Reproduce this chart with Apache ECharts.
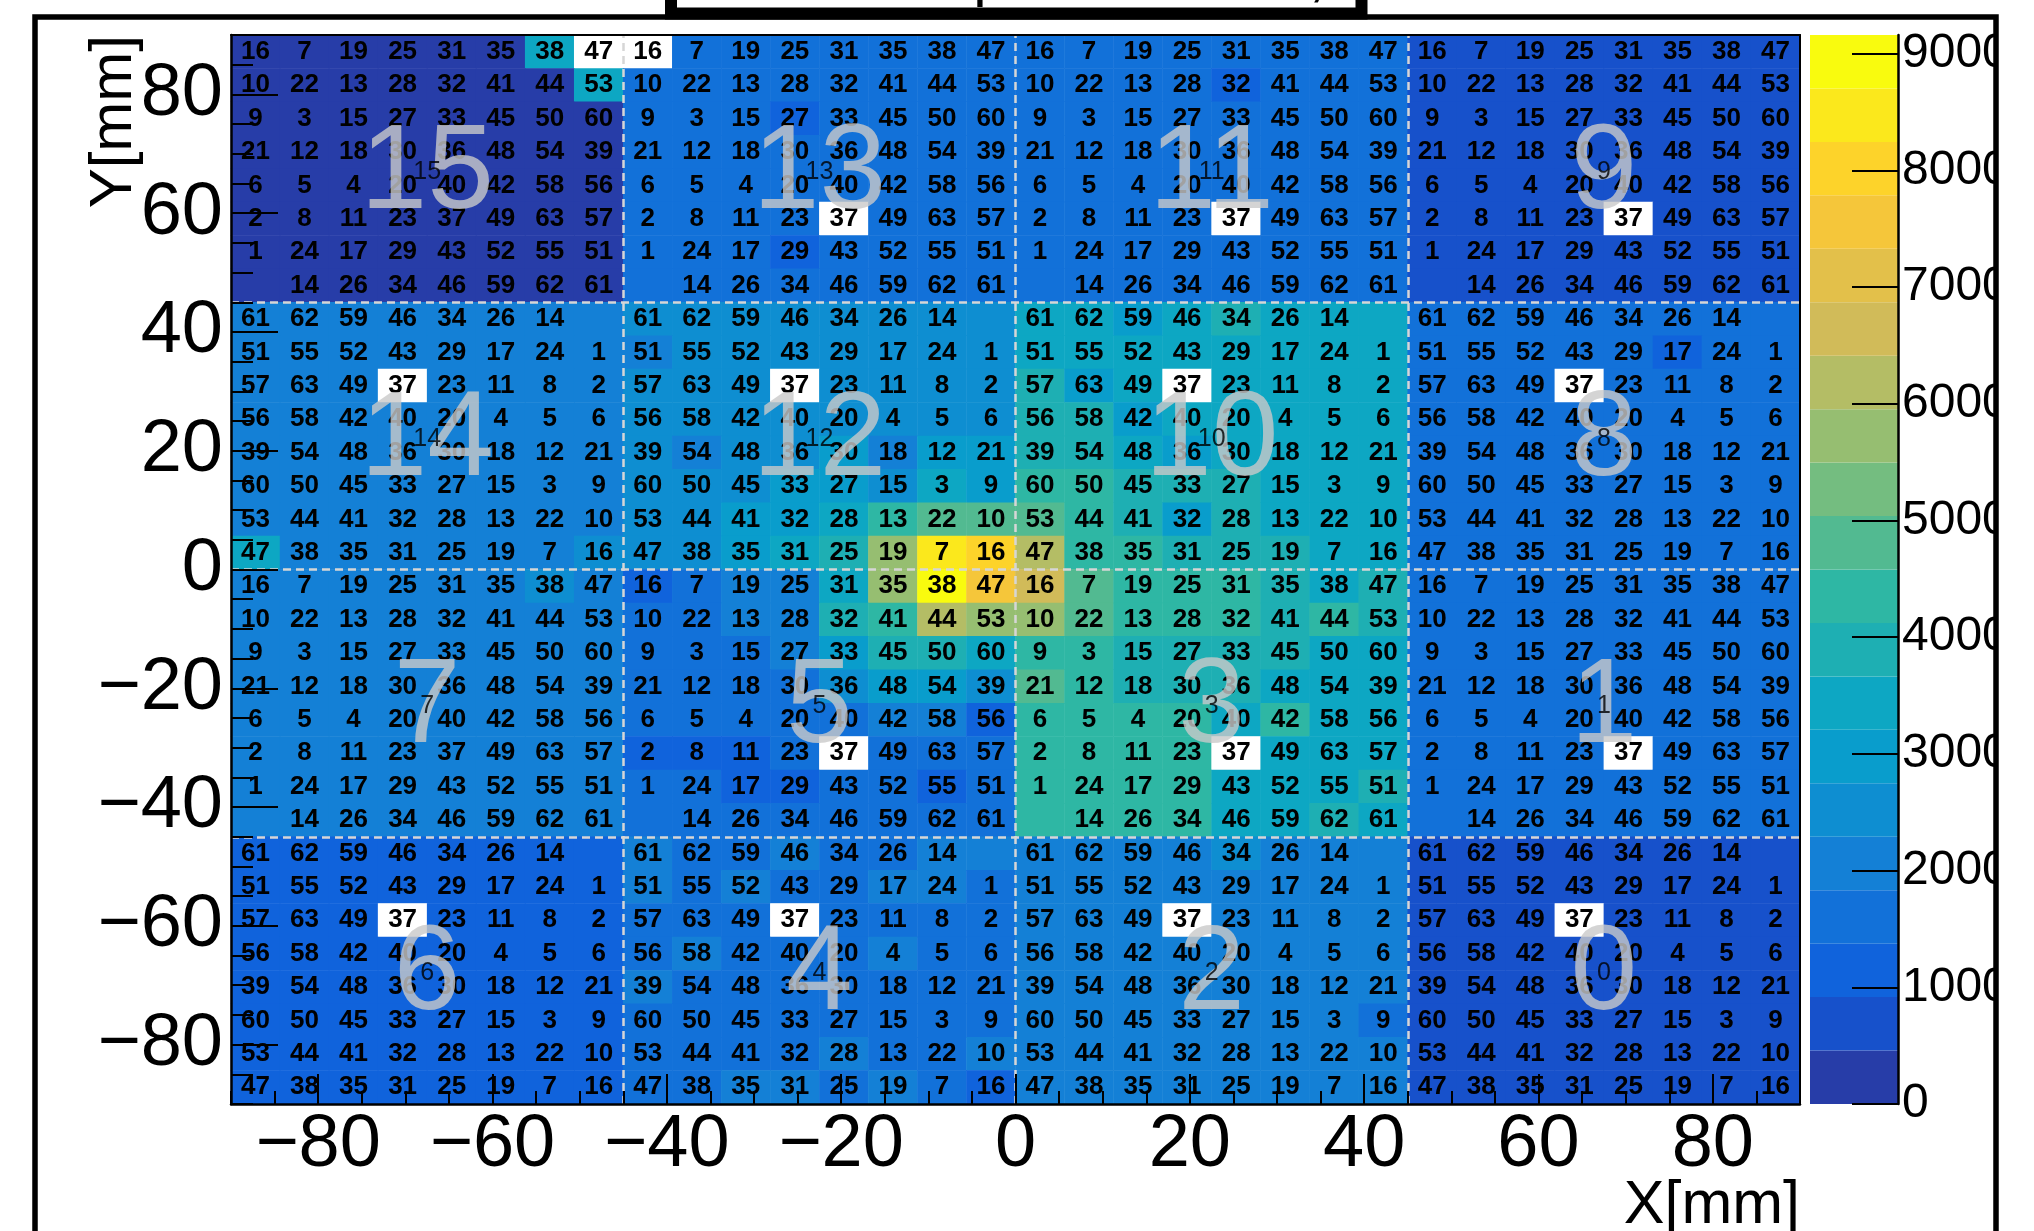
<!DOCTYPE html>
<html>
<head>
<meta charset="utf-8">
<script src="https://cdn.jsdelivr.net/npm/echarts@6/dist/echarts.min.js"></script>
<style>
html,body{margin:0;padding:0;background:#fff;}
#c{width:2034px;height:1231px;}
</style>
</head>
<body>
<div id="c"></div>
<script>
// ---------- data ----------
// channel numbers in one 8x8 module (upper-type and lower-type modules)
const CH_A = [
  [16, 7,19,25,31,35,38,47],
  [10,22,13,28,32,41,44,53],
  [ 9, 3,15,27,33,45,50,60],
  [21,12,18,30,36,48,54,39],
  [ 6, 5, 4,20,40,42,58,56],
  [ 2, 8,11,23,37,49,63,57],
  [ 1,24,17,29,43,52,55,51],
  [ 0,14,26,34,46,59,62,61]
];
const CH_B = [
  [61,62,59,46,34,26,14, 0],
  [51,55,52,43,29,17,24, 1],
  [57,63,49,37,23,11, 8, 2],
  [56,58,42,40,20, 4, 5, 6],
  [39,54,48,36,30,18,12,21],
  [60,50,45,33,27,15, 3, 9],
  [53,44,41,32,28,13,22,10],
  [47,38,35,31,25,19, 7,16]
];
// module ids (top row of modules first) and module centres [mm]
const MODULE_IDS = [[15,13,11,9],[14,12,10,8],[7,5,3,1],[6,4,2,0]];
const MODULE_X = [-67.5,-22.5,22.5,67.5];
const MODULE_Y = [67.5,22.5,-22.5,-67.5];
const MODULE_EDGES = [-45,0,45];

// counts per cell, rows from top (y=+90) to bottom, 32 columns from x=-90
const COUNTS_TOP = [ // modules 15 13 11 9
 [300,320,290,310,280,300,3420,0, 0,1600,1620,1590,1610,1580,1630,1600, 1610,1590,1620,1600,1580,1610,1600,1570, 700,690,710,680,700,720,690,700],
 [310,290,300,320,300,290,310,3450, 1590,1610,1600,1620,1580,1600,1610,1590, 1600,1620,1590,1610,1150,1600,1580,1610, 690,710,700,680,720,700,690,710],
 [290,300,310,290,300,320,300,310, 1600,1580,1610,1160,1600,1620,1590,1600, 1610,1590,1600,1620,1600,1580,1610,1600, 700,680,710,700,690,700,720,690],
 [300,310,290,300,320,300,290,300, 1610,1600,1590,1600,1620,1610,1580,1600, 1590,1600,1610,1600,1590,1620,1600,1610, 710,700,690,700,710,680,700,690],
 [320,300,300,290,310,300,310,290, 1590,1620,1600,1610,1590,1600,1610,1620, 1600,1610,1590,1580,1610,1600,1620,1590, 690,700,710,690,700,710,690,700],
 [300,290,310,300,300,320,300,310, 1600,1590,1610,1600,0,1610,1590,1600, 1620,1600,1590,1610,0,1600,1610,1600, 700,710,690,700,0,690,710,700],
 [310,300,290,310,300,290,310,300, 1610,1600,1590,1150,1600,1620,1600,1610, 1600,1590,1610,1600,1620,1600,1590,1610, 690,700,700,710,690,700,690,710],
 [290,310,300,300,290,310,300,320, 1600,1610,1600,1590,1610,1600,1620,1600, 1590,1610,1600,1620,1600,1610,1590,1600, 700,690,710,700,700,690,700,680]
];
const COUNTS_UPPER_MID = [ // modules 14 12 10 8
 [2060,2040,2070,2050,2080,2050,2060,2040, 2500,2520,2510,2490,2530,2500,2510,2520, 3420,3440,2980,3430,3900,3420,3410,3440, 1610,1600,1590,1620,1600,1610,1590,1600],
 [2050,2070,2060,2040,2050,2080,2060,2050, 2070,2510,2520,2500,2490,2510,2530,2500, 3430,3410,3440,3420,3450,3420,3430,3410, 1600,1620,1590,1610,1600,1150,1610,1600],
 [2060,2050,2070,0,2060,2040,2050,2070, 2510,2500,2520,0,2510,2500,2490,2510, 3880,2970,3420,0,3430,3440,3410,3420, 1590,1610,1600,0,1620,1600,1590,1610],
 [2040,2060,2050,2070,2060,2050,2040,2060, 2500,2520,2510,2500,2530,2510,2500,2520, 3890,3870,2990,3430,3420,3410,3440,3420, 1610,1600,1620,1590,1600,1610,1600,1590],
 [2070,2050,2060,2040,2050,2060,2070,2050, 2510,2060,2500,2520,3000,2070,2990,2980, 3900,3880,3440,2980,3420,3430,3410,3440, 1600,1590,1610,1600,1620,1600,1610,1590],
 [2050,2060,2040,2050,2070,2060,2050,2060, 2520,2500,2510,2990,3000,2510,3430,2980, 4340,4320,3890,3910,3880,3420,3440,3430, 1610,1600,1590,1610,1600,1620,1600,1610],
 [2060,2050,2070,2060,2040,2050,2060,2070, 2500,2510,2980,3000,3440,4350,4810,4790, 4800,4330,3900,2990,3880,3420,3410,3430, 1600,1610,1600,1590,1610,1600,1620,1600],
 [3430,2050,2060,2070,2050,2060,2040,2520, 2510,2500,2990,3430,3890,5720,8480,8020, 6180,4340,4320,3900,3880,3870,3420,3440, 1590,1600,1610,1600,1620,1610,1600,1590]
];
const COUNTS_LOWER_MID = [ // modules 7 5 3 1
 [2050,2060,2070,2050,2060,2040,2520,2060, 1150,1610,2060,2070,3420,5720,9160,7560, 6640,4800,4350,4330,4340,3900,3430,3890, 1600,1610,1590,1600,1620,1600,1610,1600],
 [2060,2050,2040,2060,2070,2050,2060,2050, 1600,1590,2050,2070,3890,4340,6180,5730, 5720,4790,4340,4330,4210,3900,4350,3890, 1610,1600,1620,1590,1600,1610,1600,1620],
 [2050,2070,2060,2040,2050,2060,2070,2050, 1600,1620,1590,2060,2980,3900,3880,3430, 4330,4340,3890,3900,3880,3910,3430,3420, 1600,1590,1610,1600,1620,1600,1590,1610],
 [2060,2050,2040,2060,2050,2070,2060,2040, 1590,1610,1600,1620,2520,2980,2990,2510, 4790,4340,3890,3900,3880,3420,3440,3410, 1610,1600,1620,1600,1590,1610,1600,1620],
 [2070,2050,2060,2050,2040,2060,2050,2060, 1600,1610,1590,1620,1600,2060,2050,1150, 4340,4330,4350,4320,3430,4200,3420,3440, 1600,1620,1590,1610,1600,1600,1610,1590],
 [2050,2060,2050,2070,2060,2050,2040,2060, 1150,1160,1140,1600,0,1610,1620,1600, 4330,4350,4340,4320,0,3420,3440,3430, 1610,1600,1590,1600,0,1620,1600,1610],
 [2060,2050,2070,2040,2050,2060,2050,2070, 1610,1620,1150,1140,1600,1590,1160,1620, 4340,4320,4350,4330,3430,3420,3410,3900, 1600,1610,1600,1620,1590,1600,1610,1600],
 [2050,2060,2040,2060,2070,2050,2060,2050, 1600,1610,1620,1590,1600,1610,1600,1620, 4330,4340,4320,4350,3420,3430,3900,3440, 1620,1600,1610,1590,1600,1620,1600,1610]
];
const COUNTS_BOTTOM = [ // modules 6 4 2 0
 [1150,1140,1160,1150,1130,1150,1160,1140, 2050,1610,1600,2060,1590,1600,2050,2070, 2050,2060,2070,2050,2520,2060,2050,2040, 700,690,710,700,680,700,710,690],
 [1140,1150,1160,1130,1150,1140,1160,1150, 2060,1600,2050,1610,1590,2060,2050,1600, 2060,2050,2040,2060,2050,2070,2060,2050, 690,700,710,690,700,720,700,710],
 [1150,1160,1140,0,1150,1160,1140,1150, 1600,1610,1590,0,1620,1600,1610,1590, 2050,2060,2050,0,2070,2050,2060,2040, 700,710,690,0,700,690,700,710],
 [1160,1150,1140,1150,1160,1130,1150,1140, 1610,2060,1600,1590,1610,2050,1600,1620, 2060,2040,2050,2060,2050,2060,2070,2050, 710,700,690,700,710,700,690,700],
 [1140,1150,1160,1140,1150,1160,1150,1130, 2050,1600,1610,1620,1590,1600,1610,1600, 2050,2070,2060,2050,2040,2060,2050,2060, 700,690,700,710,700,690,710,700],
 [1150,1140,1150,1160,1140,1150,1160,1150, 1600,1620,1590,1610,1600,1610,1590,1600, 2060,2050,2060,2070,2050,2040,2060,1600, 690,700,710,700,690,700,700,710],
 [1160,1150,1140,1150,1160,1150,1140,1160, 1610,1590,1600,1620,2060,1600,1610,2050, 2050,2060,2050,2040,2060,2050,2070,2060, 700,710,690,700,710,690,700,700],
 [1140,1160,1150,1140,1150,1160,1150,1140, 1600,1610,2050,2060,1590,2060,1600,1150, 2060,2050,2070,2050,2060,2040,2050,2060, 710,690,700,710,690,700,710,690]
];

// axes
const X_TICKS = [-80,-60,-40,-20,0,20,40,60,80];
const Y_TICKS = [-80,-60,-40,-20,0,20,40,60,80];
const MINOR_TICKS = [-90,-85,-80,-75,-70,-65,-60,-55,-50,-45,-40,-35,-30,-25,-20,-15,-10,-5,0,5,10,15,20,25,30,35,40,45,50,55,60,65,70,75,80,85,90];
const Z_TICKS = [0,1000,2000,3000,4000,5000,6000,7000,8000,9000];
const ZMAX = 9160;
const NCONT = 20;

// ---------- build ----------
const ROWS = COUNTS_TOP.concat(COUNTS_UPPER_MID, COUNTS_LOWER_MID, COUNTS_BOTTOM);
const NC = 32;
const cats = Array.from({length: NC}, (_, i) => i);
const heat = [];
for (let r = 0; r < NC; r++) for (let c = 0; c < NC; c++) heat.push([c, r, ROWS[r][c]]);
function channel(c, r) {
  const pat = (Math.floor(r / 8) % 2 === 0) ? CH_A : CH_B;
  return pat[r % 8][c % 8];
}

// ROOT kBird palette
const ST=[0,0.125,0.25,0.375,0.5,0.625,0.75,0.875,1];
const PR=[0.2082,0.0592,0.0780,0.0232,0.1802,0.5301,0.8186,0.9956,0.9764];
const PG=[0.1664,0.3599,0.5041,0.6419,0.7178,0.7492,0.7328,0.7862,0.9832];
const PB=[0.5293,0.8684,0.8385,0.7914,0.6425,0.4662,0.3499,0.1968,0.0539];
function bird(t){
  let i=0; while(i<ST.length-2 && t>ST[i+1]) i++;
  const f=(t-ST[i])/(ST[i+1]-ST[i]);
  const ch=a=>Math.round(255*(a[i]+f*(a[i+1]-a[i])));
  return 'rgb('+ch(PR)+','+ch(PG)+','+ch(PB)+')';
}
const STEP = ZMAX / NCONT;
const PAL = [];
for (let k = 0; k < NCONT; k++) PAL.push(bird(Math.floor((k + 0.99) * 255 / NCONT) / 254));
const pieces = [{min: 0, max: 0, color: '#ffffff'}];
for (let k = 0; k < NCONT; k++) {
  const p = {color: PAL[k]};
  if (k === 0) p.gt = 0; else p.gte = k * STEP;
  if (k === NCONT - 1) p.lte = ZMAX * 1.01; else p.lt = (k + 1) * STEP;
  pieces.push(p);
}
const bands = Array.from({length: NCONT}, (_, k) => [k]);

const modPts = [];
for (let i = 0; i < 4; i++) for (let j = 0; j < 4; j++) modPts.push([MODULE_X[j], MODULE_Y[i], MODULE_IDS[i][j]]);

const FONT = 'Liberation Sans';
const minus = v => (v < 0 ? '\u2212' + Math.abs(v) : String(v));

const chart = echarts.init(document.getElementById('c'), null, {renderer: 'canvas'});
chart.setOption({
  animation: false,
  backgroundColor: '#ffffff',
  textStyle: {fontFamily: FONT},
  grid: [
    {left: 231, top: 35, width: 1569, height: 1069},
    {left: 1810, top: 35, width: 88, height: 1069}
  ],
  xAxis: [
    {type: 'category', gridIndex: 0, data: cats, position: 'top', z: 20,
     axisLine: {show: true, onZero: false, lineStyle: {color: '#000', width: 2}}, axisTick: {show: false}, axisLabel: {show: false}, splitLine: {show: false}},
    {type: 'value', gridIndex: 0, min: -90, max: 90, position: 'bottom', z: 20,
     axisLine: {show: true, onZero: false, lineStyle: {color: '#000', width: 2.5}},
     axisTick: {show: true, inside: true, length: 30, customValues: X_TICKS, lineStyle: {color: '#000', width: 2}},
     axisLabel: {show: true, customValues: X_TICKS, formatter: minus, fontSize: 74, color: '#000', margin: 5, fontFamily: FONT},
     splitLine: {show: false}},
    {type: 'value', gridIndex: 0, min: -90, max: 90, position: 'bottom', z: 20,
     axisLine: {show: false, onZero: false}, axisLabel: {show: false}, splitLine: {show: false},
     axisTick: {show: true, inside: true, length: 13, customValues: MINOR_TICKS, lineStyle: {color: '#000', width: 2}}},
    {type: 'value', gridIndex: 1, min: 0, max: 1, show: false, splitLine: {show: false}, axisLine: {onZero: false}}
  ],
  yAxis: [
    {type: 'category', gridIndex: 0, data: cats, inverse: true, position: 'right', z: 20,
     axisLine: {show: true, onZero: false, lineStyle: {color: '#000', width: 2}}, axisTick: {show: false}, axisLabel: {show: false}, splitLine: {show: false}},
    {type: 'value', gridIndex: 0, min: -90, max: 90, position: 'left', z: 20,
     axisLine: {show: true, onZero: false, lineStyle: {color: '#000', width: 2.5}},
     axisTick: {show: true, inside: true, length: 47, customValues: Y_TICKS, lineStyle: {color: '#000', width: 2}},
     axisLabel: {show: true, customValues: Y_TICKS, formatter: minus, fontSize: 74, color: '#000', margin: 8, fontFamily: FONT},
     splitLine: {show: false}},
    {type: 'value', gridIndex: 0, min: -90, max: 90, position: 'left', z: 20,
     axisLine: {show: false, onZero: false}, axisLabel: {show: false}, splitLine: {show: false},
     axisTick: {show: true, inside: true, length: 22, customValues: MINOR_TICKS, lineStyle: {color: '#000', width: 2}}},
    {type: 'value', gridIndex: 1, min: 0, max: ZMAX, position: 'right', z: 20,
     axisLine: {show: true, onZero: false, lineStyle: {color: '#000', width: 2.5}},
     axisTick: {show: true, inside: true, length: 46, customValues: Z_TICKS, lineStyle: {color: '#000', width: 2}},
     axisLabel: {show: true, customValues: Z_TICKS, formatter: v => String(v), fontSize: 48, color: '#000', margin: 4, fontFamily: FONT},
     splitLine: {show: false}}
  ],
  visualMap: {type: 'piecewise', show: false, seriesIndex: 0, dimension: 2, pieces: pieces},
  series: [
    {type: 'heatmap', xAxisIndex: 0, yAxisIndex: 0, data: heat, z: 1, silent: true,
     itemStyle: {borderWidth: 0},
     emphasis: {disabled: true},
     label: {show: true, color: '#000', fontSize: 26, fontWeight: 'bold', fontFamily: FONT,
       formatter: p => { const ch = channel(p.value[0], p.value[1]); return ch === 0 ? '' : String(ch); }}},
    {type: 'scatter', xAxisIndex: 1, yAxisIndex: 1, data: [], z: 3, silent: true,
     markLine: {silent: true, symbol: ['none', 'none'], label: {show: false}, animation: false,
       lineStyle: {color: '#d6d6d6', width: 2.5, type: [8, 5]},
       emphasis: {disabled: true},
       data: MODULE_EDGES.map(v => ({xAxis: v})).concat(MODULE_EDGES.map(v => ({yAxis: v})))}},
    {type: 'scatter', xAxisIndex: 1, yAxisIndex: 1, data: modPts, z: 4, silent: true,
     symbolSize: 1, itemStyle: {color: 'rgba(0,0,0,0)'},
     label: {show: true, position: 'inside', offset: [0, 6], formatter: p => String(p.value[2]), fontSize: 120, color: '#c9c9c9', fontFamily: FONT}},
    {type: 'scatter', xAxisIndex: 1, yAxisIndex: 1, data: modPts, z: 5, silent: true,
     symbolSize: 1, itemStyle: {color: 'rgba(0,0,0,0)'},
     label: {show: true, position: 'inside', offset: [0, 3], formatter: p => String(p.value[2]), fontSize: 25, color: '#000', fontFamily: FONT}},
    {type: 'custom', xAxisIndex: 3, yAxisIndex: 3, data: bands, z: 0, silent: true,
     renderItem: (params, api) => {
       const k = api.value(0);
       const a = api.coord([0, (k + 1) * STEP]);
       const b = api.coord([1, k * STEP]);
       return {type: 'rect', shape: {x: a[0], y: a[1], width: b[0] - a[0], height: b[1] - a[1]}, style: {fill: PAL[k]}};
     }}
  ],
  graphic: [
    {type: 'text', x: 1800, y: 1176, z: 50, style: {text: 'X[mm]', fontSize: 61, fontFamily: FONT, fill: '#000', align: 'right', verticalAlign: 'top', textAlign: 'right', textVerticalAlign: 'top'}},
    {type: 'text', x: 114, y: 35, rotation: Math.PI / 2, z: 50, style: {text: 'Y[mm]', fontSize: 60, fontFamily: FONT, fill: '#000', align: 'right', verticalAlign: 'middle', textAlign: 'right', textVerticalAlign: 'middle'}},
    {type: 'rect', z: 100, shape: {x: 1997, y: 0, width: 40, height: 1231}, style: {fill: '#ffffff'}},
    {type: 'rect', z: 101, shape: {x: 35, y: 17, width: 1961, height: 1300}, style: {fill: 'none', stroke: '#000', lineWidth: 5.5}},
    {type: 'rect', z: 102, shape: {x: 671, y: -40, width: 690.5, height: 53.5}, style: {fill: '#ffffff', stroke: '#000', lineWidth: 12}},
    {type: 'text', x: 990, y: 8, z: 103, style: {text: 'p', fontSize: 60, fontFamily: FONT, fill: '#000', align: 'center', verticalAlign: 'bottom', textAlign: 'center', textVerticalAlign: 'bottom'}},
    {type: 'text', x: 1317, y: 8, z: 103, style: {text: ',', fontSize: 60, fontFamily: FONT, fill: '#000', align: 'center', verticalAlign: 'bottom', textAlign: 'center', textVerticalAlign: 'bottom'}}
  ]
});
</script>
</body>
</html>
